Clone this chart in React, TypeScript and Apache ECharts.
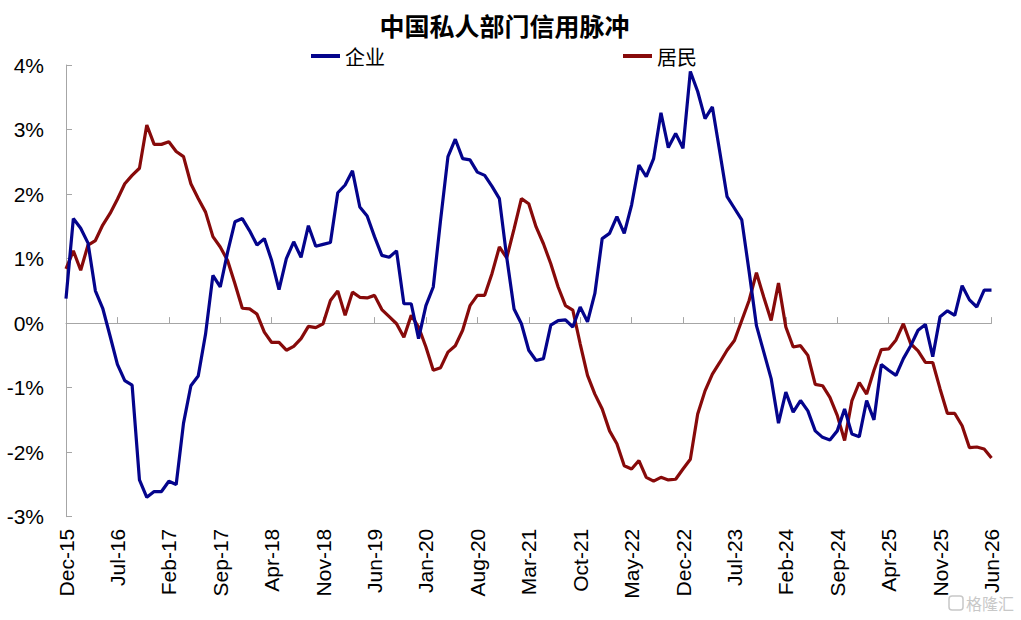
import React, { useEffect, useRef } from "react";
import * as echarts from "echarts";

const MONTH_NAMES = ["Jan", "Feb", "Mar", "Apr", "May", "Jun", "Jul", "Aug", "Sep", "Oct", "Nov", "Dec"];
// Monthly categories from Dec-15 to Jun-26
const START_YEAR = 2015;
const START_MONTH = 11; // December (0-based)
const MONTH_COUNT = 127;
const categories: string[] = [];
for (let i = 0; i < MONTH_COUNT; i++) {
  const m = (START_MONTH + i) % 12;
  const y = START_YEAR + Math.floor((START_MONTH + i) / 12);
  categories.push(`${MONTH_NAMES[m]}-${String(y % 100).padStart(2, "0")}`);
}

const TITLE = "中国私人部门信用脉冲";
const SERIES_NAMES = ["企业", "居民"];

// 企业 (corporate) credit impulse, %
const corporate = [
  0.38, 1.62, 1.47, 1.24, 0.5, 0.23, -0.2, -0.64, -0.89, -0.96,
  -2.43, -2.7, -2.61, -2.61, -2.45, -2.5, -1.55, -0.97, -0.82, -0.17,
  0.74, 0.56, 1.1, 1.57, 1.62, 1.43, 1.21, 1.31, 0.97, 0.52,
  1.0, 1.26, 1.02, 1.51, 1.19, 1.22, 1.25, 2.02, 2.14, 2.36,
  1.8, 1.66, 1.34, 1.05, 1.02, 1.12, 0.3, 0.3, -0.24, 0.27,
  0.56, 1.6, 2.58, 2.85, 2.55, 2.53, 2.34, 2.29, 2.12, 1.93,
  1.02, 0.22, -0.01, -0.42, -0.58, -0.55, -0.03, 0.04, 0.05, -0.06,
  0.25, 0.02, 0.46, 1.31, 1.39, 1.65, 1.39, 1.83, 2.45, 2.27,
  2.55, 3.26, 2.72, 2.94, 2.71, 3.9, 3.59, 3.17, 3.35, 2.66,
  1.96, 1.78, 1.6, 0.8, -0.04, -0.45, -0.86, -1.55, -1.07, -1.38,
  -1.2, -1.36, -1.67, -1.77, -1.81, -1.67, -1.33, -1.72, -1.76, -1.2,
  -1.5, -0.64, -0.73, -0.81, -0.55, -0.35, -0.11, -0.02, -0.52, 0.1,
  0.19, 0.12, 0.58, 0.36, 0.25, 0.51, 0.51,
];

// 居民 (household) credit impulse, %
const household = [
  0.84, 1.12, 0.82, 1.21, 1.28, 1.52, 1.7, 1.92, 2.16, 2.29,
  2.4, 3.07, 2.77, 2.77, 2.81, 2.66, 2.58, 2.16, 1.93, 1.72,
  1.34, 1.18, 0.97, 0.61, 0.23, 0.22, 0.14, -0.14, -0.3, -0.3,
  -0.42, -0.36, -0.24, -0.05, -0.07, -0.01, 0.35, 0.5, 0.12, 0.48,
  0.4, 0.39, 0.43, 0.21, 0.1, -0.01, -0.22, 0.12, -0.06, -0.37,
  -0.73, -0.69, -0.45, -0.35, -0.11, 0.27, 0.43, 0.43, 0.77, 1.18,
  1.01, 1.46, 1.93, 1.85, 1.49, 1.23, 0.92, 0.56, 0.27, 0.2,
  -0.32, -0.81, -1.1, -1.33, -1.67, -1.87, -2.21, -2.26, -2.13, -2.39,
  -2.45, -2.39, -2.43, -2.42, -2.26, -2.11, -1.41, -1.05, -0.79, -0.61,
  -0.42, -0.27, 0.04, 0.35, 0.78, 0.4, 0.04, 0.62, -0.06, -0.37,
  -0.35, -0.5, -0.95, -0.97, -1.15, -1.43, -1.82, -1.2, -0.92, -1.1,
  -0.73, -0.41, -0.4, -0.26, -0.01, -0.32, -0.43, -0.61, -0.61, -1.02,
  -1.4, -1.4, -1.59, -1.93, -1.92, -1.95, -2.09,
];

const Y_MIN = -3;
const Y_MAX = 4;
const Y_STEP = 1;

const BLUE = "#04048c";
const RED = "#870a0a";
const AXIS_GREY = "#a6a6a6";
const FONT = "'Liberation Sans', Arial, sans-serif";
const CJK = "'Noto Sans CJK SC', sans-serif";

export default function App() {
  const ref = useRef<HTMLDivElement>(null);

  useEffect(() => {
    if (!ref.current) return;
    const chart = echarts.init(ref.current, undefined, { renderer: "svg" });
    chart.setOption({
      animation: false,
      backgroundColor: "#ffffff",
      grid: { left: 66, top: 65, width: 925.5, height: 451.7, containLabel: false },
      legend: [
        {
          data: [SERIES_NAMES[0]],
          left: 306,
          top: 41,
          icon: "rect",
          itemWidth: 29,
          itemHeight: 4,
          itemGap: 5,
          textStyle: { fontFamily: CJK, fontSize: 20, color: "#000" },
        },
        {
          data: [SERIES_NAMES[1]],
          left: 618,
          top: 41,
          icon: "rect",
          itemWidth: 29,
          itemHeight: 4,
          itemGap: 5,
          textStyle: { fontFamily: CJK, fontSize: 20, color: "#000" },
        },
      ],
      xAxis: [
        {
          type: "category",
          data: categories,
          boundaryGap: false,
          position: "bottom",
          axisLine: { show: true, onZero: true, lineStyle: { color: AXIS_GREY, width: 1 } },
          axisTick: { show: true, inside: true, length: 6, interval: 6, lineStyle: { color: AXIS_GREY } },
          axisLabel: { show: false },
          splitLine: { show: false },
        },
        {
          type: "category",
          data: categories,
          boundaryGap: false,
          position: "bottom",
          axisLine: { show: false, onZero: false },
          axisTick: { show: false },
          axisLabel: {
            show: true,
            interval: 6,
            rotate: 90,
            margin: 12,
            fontFamily: FONT,
            fontSize: 21,
            color: "#000",
          },
          splitLine: { show: false },
        },
      ],
      yAxis: {
        type: "value",
        min: Y_MIN,
        max: Y_MAX,
        interval: Y_STEP,
        axisLine: { show: true, lineStyle: { color: AXIS_GREY, width: 1 } },
        axisTick: { show: true, inside: true, length: 6, lineStyle: { color: AXIS_GREY } },
        axisLabel: {
          formatter: "{value}%",
          margin: 22,
          fontFamily: FONT,
          fontSize: 21,
          color: "#000",
        },
        splitLine: { show: false },
      },
      series: [
        {
          name: SERIES_NAMES[0],
          type: "line",
          xAxisIndex: 0,
          data: corporate,
          showSymbol: false,
          symbol: "none",
          lineStyle: { color: BLUE, width: 3.2 },
          itemStyle: { color: BLUE },
          z: 3,
        },
        {
          name: SERIES_NAMES[1],
          type: "line",
          xAxisIndex: 0,
          data: household,
          showSymbol: false,
          symbol: "none",
          lineStyle: { color: RED, width: 3.2 },
          itemStyle: { color: RED },
          z: 2,
        },
      ],
      graphic: [
        {
          type: "text",
          x: 504.5,
          y: 25,
          style: {
            text: TITLE,
            fontFamily: CJK,
            fontSize: 25,
            fontWeight: "bold",
            fill: "#000",
            textAlign: "center",
            textVerticalAlign: "middle",
          },
        },
        {
          type: "rect",
          shape: { x: 949, y: 596, width: 14, height: 14, r: 3 },
          style: { fill: "none", stroke: "#c8c8c8", lineWidth: 1.5 },
        },
        {
          type: "text",
          x: 966,
          y: 603,
          style: {
            text: "格隆汇",
            fontFamily: CJK,
            fontSize: 16,
            fill: "#c8c8c8",
            textAlign: "left",
            textVerticalAlign: "middle",
          },
        },
      ],
    });
    return () => chart.dispose();
  }, []);

  return (
    <div
      ref={ref}
      style={{ position: "absolute", left: 0, top: 0, width: 1021, height: 620, background: "#fff" }}
    />
  );
}
